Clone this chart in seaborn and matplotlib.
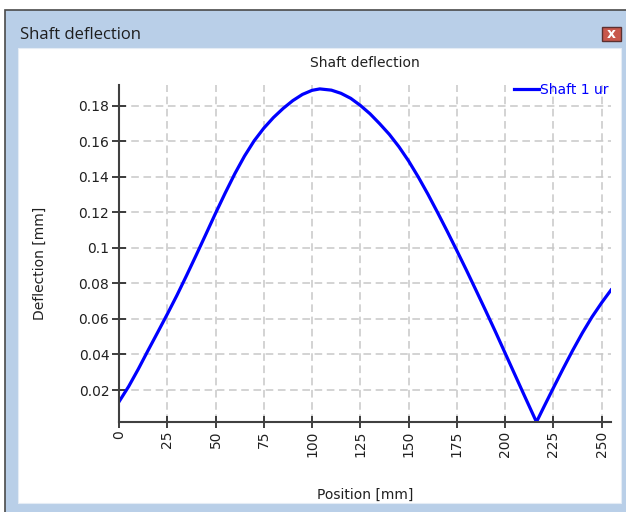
import numpy as np
import pandas as pd
import seaborn as sns
import matplotlib.pyplot as plt
from matplotlib.patches import Rectangle
from matplotlib.ticker import FuncFormatter

# Data
position = [0, 5, 10, 15, 20, 25, 30, 35, 40, 45, 50, 55, 60, 65, 70, 75,
            80, 85, 90, 95, 100, 104, 110, 115, 120, 125, 130, 135, 140,
            145, 150, 155, 160, 165, 170, 175, 180, 185, 190, 195, 200, 205,
            210, 216.2, 220, 225, 230, 235, 240, 245, 250, 254.8]
deflection = [0.0134, 0.0220, 0.0318, 0.0422, 0.0524, 0.0627, 0.0733, 0.0845,
              0.0960, 0.1077, 0.1195, 0.1309, 0.1418, 0.1517, 0.1603, 0.1674,
              0.1734, 0.1785, 0.1829, 0.1864, 0.1887, 0.1895, 0.1888, 0.1870,
              0.1842, 0.1802, 0.1755, 0.1699, 0.1639, 0.1569, 0.1489, 0.1399,
              0.1302, 0.1199, 0.1093, 0.0984, 0.0873, 0.0759, 0.0644, 0.0527,
              0.0407, 0.0287, 0.0167, 0.0020, 0.0104, 0.0213, 0.0320, 0.0424,
              0.0522, 0.0612, 0.0692, 0.0763]
x_ticks = [0, 25, 50, 75, 100, 125, 150, 175, 200, 225, 250]
y_ticks = [0.02, 0.04, 0.06, 0.08, 0.1, 0.12, 0.14, 0.16, 0.18]

df = pd.DataFrame({"Position": position, "Deflection": deflection})

W, H = 626, 512
fig = plt.figure(figsize=(W / 100, H / 100), dpi=100)
fig.patch.set_facecolor("white")


def px_rect(x0, y0, x1, y1, **kw):
    # rectangle given in pixel coords (top-left origin)
    return Rectangle((x0 / W, 1 - y1 / H), (x1 - x0) / W, (y1 - y0) / H,
                     transform=fig.transFigure, zorder=-10, **kw)


# window frame
fig.patches.append(px_rect(5, 10, 640, 530, facecolor="#b9cfe8",
                           edgecolor="#4a4a4a", lw=1.2))
fig.patches.append(px_rect(18, 48, 621, 503, facecolor="white",
                           edgecolor="#e4ecf5", lw=0.8))
fig.patches.append(px_rect(602, 27, 621, 41, facecolor="#c8584c",
                           edgecolor="#5c3030", lw=1))
fig.text(611.5 / W, 1 - 34 / H, "x", color="white", fontsize=10,
         fontweight="bold", ha="center", va="center")
fig.text(20 / W, 1 - 35 / H, "Shaft deflection", fontsize=12,
         family="Open Sans", color="#1e1e1e", va="center", ha="left")

# chart
ax = fig.add_axes([119 / W, 1 - 422 / H, (611 - 119) / W, (422 - 85) / H])
ax.set_facecolor("white")

sns.lineplot(data=df, x="Position", y="Deflection", ax=ax, color="#0000ff",
             lw=2.3, label="Shaft 1 ur", sort=False)

ax.set_xlim(0, 254.8)
ax.set_ylim(0.002, 0.1917)
ax.set_xticks(x_ticks)
ax.set_yticks(y_ticks)
ax.yaxis.set_major_formatter(FuncFormatter(lambda v, p: f"{v:g}"))
ax.tick_params(axis="x", labelrotation=90, direction="inout", length=8,
               width=1.3, color="#303030", labelsize=10, labelcolor="#202020",
               pad=2)
ax.tick_params(axis="y", direction="inout", length=10, width=1.3,
               color="#303030", labelsize=10, labelcolor="#202020", pad=2)

for s in ["top", "right"]:
    ax.spines[s].set_visible(False)
for s in ["left", "bottom"]:
    ax.spines[s].set_color("#404040")
    ax.spines[s].set_linewidth(1.5)

ax.grid(True, color="#c8c8c8", linestyle=(0, (5, 3)), lw=1.1)
ax.set_axisbelow(True)

ax.set_title("Shaft deflection", fontsize=10, color="#202020", pad=13)
ax.set_xlabel("Position [mm]", fontsize=10, color="#202020")
ax.set_ylabel("Deflection [mm]", fontsize=10, color="#202020")
ax.xaxis.set_label_coords(0.5, -(488 - 422) / (422 - 85))
ax.yaxis.set_label_coords(-(119 - 47) / (611 - 119), 0.47)

leg = ax.legend(loc="upper right", frameon=False, fontsize=10,
                labelcolor="#0000ff", handlelength=1.8, handletextpad=0.1,
                borderaxespad=0, borderpad=0, bbox_to_anchor=(0.995, 1.005))

plt.savefig("out.png", dpi=100)
